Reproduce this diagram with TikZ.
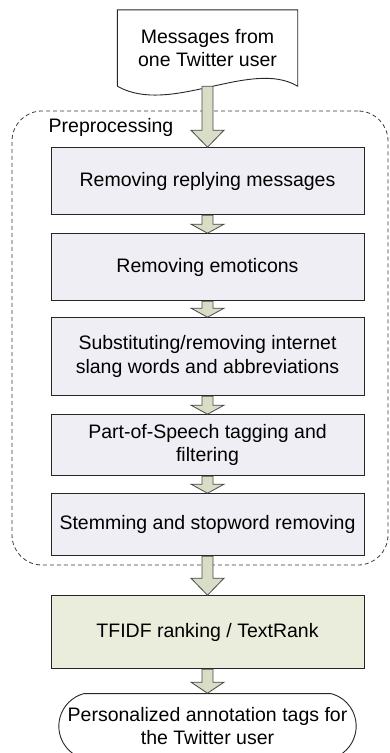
\documentclass[tikz,border=0pt]{standalone}
\usepackage{fontspec}
\setmainfont{Liberation Sans}
\usetikzlibrary{shapes.misc, positioning, calc}
\definecolor{boxfill}{HTML}{EFEEF4}
\definecolor{rankfill}{HTML}{EAEDDC}
\definecolor{arrowfill}{HTML}{D8DEC5}
\definecolor{arrowline}{HTML}{4A4A4A}
\definecolor{groupline}{HTML}{3A3A3A}
\newcommand{\boxfont}{\fontsize{19.5pt}{23.5pt}\selectfont}
\tikzset{headlen/.store in=\headlen, headlen=9pt}
\tikzstyle{docnode} = [rectangle, minimum width=180pt, minimum height=76pt, align=center, font=\boxfont]
\tikzstyle{docline} = [draw=black!85, line width=0.9pt]
\tikzstyle{process} = [rectangle, minimum width=313pt, align=center, font=\boxfont, draw=black!85, line width=1pt, fill=boxfill]
\tikzstyle{ranking} = [rectangle, minimum width=313pt, minimum height=73pt, align=center, font=\boxfont, draw=black!85, line width=1pt, fill=rankfill]
\tikzstyle{terminal} = [rounded rectangle, rounded rectangle arc length=150, minimum width=304pt, minimum height=65pt, align=center, font=\boxfont, draw=black!85, line width=0.9pt, fill=white]
\tikzstyle{group} = [rectangle, rounded corners=30pt, draw=groupline, line width=0.8pt, dash pattern=on 4pt off 3pt]
\tikzstyle{grouptitle} = [inner sep=0pt, font=\boxfont]
\tikzstyle{fatarrow} = [draw=arrowline, fill=arrowfill, line width=0.8pt, line join=miter, to path={let \p1=(\tikztostart.south), \p2=(\tikztotarget.north) in (\x1-5.5pt,\y1) -- (\x1-5.5pt,\y2+\headlen) -- (\x1-16.5pt,\y2+\headlen) -- (\x1,\y2) -- (\x1+16.5pt,\y2+\headlen) -- (\x1+5.5pt,\y2+\headlen) -- (\x1+5.5pt,\y1) -- cycle}]

\begin{document}
\begin{tikzpicture}[x=1pt, y=-1pt]
    \useasboundingbox (0,0) rectangle (390,753);

    \node (prep) [group, minimum width=376pt, minimum height=454pt] at (200,338) {};

    \node (doc) [docnode] at (207.5,48) {Messages from\\one Twitter user};

    \node (box1) [process, minimum height=67pt, below=61pt of doc] {Removing replying messages};
    \node (box2) [process, minimum height=67pt, below=18pt of box1] {Removing emoticons};
    \node (box3) [process, minimum height=78pt, below=16pt of box2] {Substituting/removing internet\\slang words and abbreviations};
    \node (box4) [process, minimum height=61pt, below=18pt of box3] {Part-of-Speech tagging and\\filtering};
    \node (box5) [process, minimum height=62pt, below=17pt of box4] {Stemming and stopword removing};

    \node (prep-title) [grouptitle, above right=10pt and -2pt of box1.north west] {Preprocessing};

    \node (rank) [ranking, below=39pt of box5] {TFIDF ranking / TextRank};
    \node (tags) [terminal, below=24pt of rank] {Personalized annotation tags for\\the Twitter user};

    \draw [docline] (doc.south west) -- (doc.north west) -- (doc.north east) -- (doc.south east)
        .. controls ($(doc.south east)+(-47,-28)$) and ($(doc.south west)+(53,30)$) .. (doc.south west);

    \draw [fatarrow, headlen=17pt] (doc) to (box1);
    \draw [fatarrow] (box1) to (box2);
    \draw [fatarrow] (box2) to (box3);
    \draw [fatarrow] (box3) to (box4);
    \draw [fatarrow] (box4) to (box5);
    \draw [fatarrow, headlen=17pt] (box5) to (rank);
    \draw [fatarrow, headlen=11pt] (rank) to (tags);
\end{tikzpicture}
\end{document}
